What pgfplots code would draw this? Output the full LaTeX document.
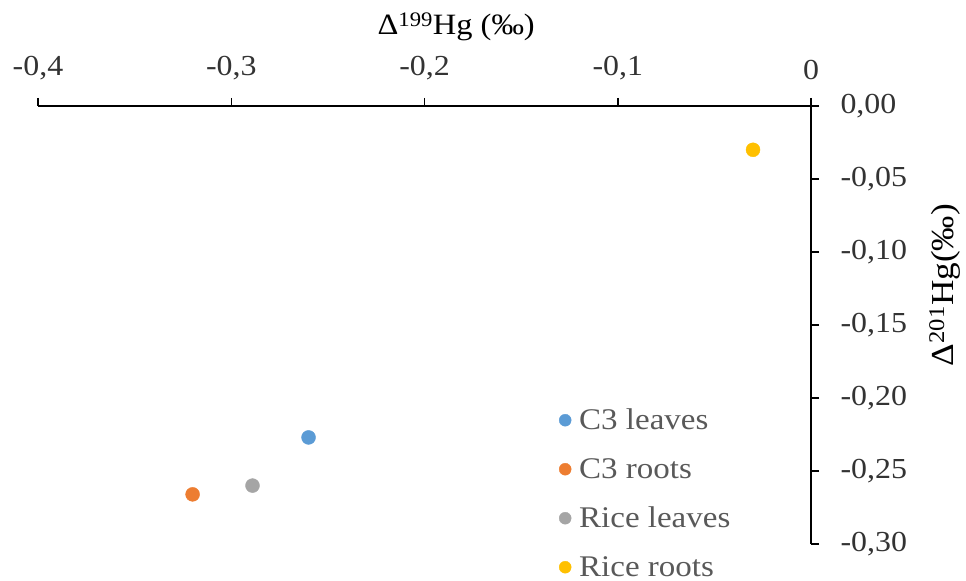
\documentclass[border=0pt]{standalone}
\usepackage{pgfplots}
\pgfplotsset{compat=1.18}
\usepackage{fontspec}
\setmainfont{Liberation Serif}[FakeStretch=1.1]
\definecolor{cblue}{HTML}{5B9BD5}
\definecolor{corange}{HTML}{ED7D31}
\definecolor{cgray}{HTML}{A5A5A5}
\definecolor{cyellow}{HTML}{FFC000}
\begin{document}
\begin{tikzpicture}
\begin{axis}[name=ax, scale only axis, width=773bp, height=438bp,
  xmin=-0.4, xmax=0, ymin=-0.30, ymax=0,
  axis x line*=top, axis y line*=right,
  axis line style={line width=1.5bp, black},
  tick align=outside, major tick length=8bp,
  tick style={line width=1.5bp, black},
  xtick={-0.4,-0.3,-0.2,-0.1,0},
  xticklabels={{-0,4},{-0,3},{-0,2},{-0,1},{0}},
  ytick={0,-0.05,-0.1,-0.15,-0.2,-0.25,-0.3},
  yticklabels={{0,00},{-0,05},{-0,10},{-0,15},{-0,20},{-0,25},{-0,30}},
  ticklabel style={font=\fontsize{29bp}{34bp}\selectfont, text=black!80},
  xticklabel style={yshift=15bp},
  yticklabel style={xshift=18bp},
  clip=false,
  xlabel={Δ\textsuperscript{199}Hg (‰)},
  ylabel={Δ\textsuperscript{201}Hg(‰)},
  xlabel style={at={(axis description cs:0.541,1)}, anchor=base, yshift=71bp, font=\fontsize{29.5bp}{34bp}\selectfont, text=black},
  ylabel style={at={(axis description cs:1.1837,0.591)}, anchor=base, rotate=0, font=\fontsize{32bp}{36bp}\selectfont, text=black},
  legend style={at={(axis description cs:0.674,0.339)}, anchor=north west, draw=none, fill=none,
    font=\fontsize{30bp}{36bp}\selectfont, text=black!65, inner sep=0pt,
    nodes={minimum height=49bp, inner sep=0pt}},
  legend cell align=left,
  legend image code/.code={\draw[#1, mark size=6bp] plot coordinates {(0.2cm,0cm)};},
]
\addplot[only marks, mark=*, mark size=7bp, color=cblue] coordinates {(-0.26,-0.227)};
\addlegendentry{\hspace{8bp}C3 leaves}
\addplot[only marks, mark=*, mark size=7bp, color=corange] coordinates {(-0.32,-0.266)};
\addlegendentry{\hspace{8bp}C3 roots}
\addplot[only marks, mark=*, mark size=7bp, color=cgray] coordinates {(-0.289,-0.260)};
\addlegendentry{\hspace{8bp}Rice leaves}
\addplot[only marks, mark=*, mark size=7bp, color=cyellow] coordinates {(-0.03,-0.030)};
\addlegendentry{\hspace{8bp}Rice roots}
\end{axis}
\pgfresetboundingbox
\path ([shift={(-38bp,-37bp)}]ax.south west) rectangle ([shift={(155bp,106bp)}]ax.north east);
\end{tikzpicture}
\end{document}
